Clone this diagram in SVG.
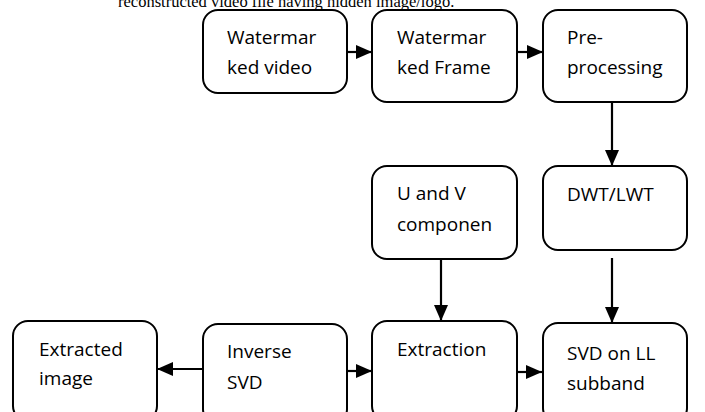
<svg xmlns="http://www.w3.org/2000/svg" width="705" height="412" viewBox="0 0 705 412">
<style>
.box{fill:#fff;stroke:#000;stroke-width:2}
.lbl{font-family:"Open Sans","Noto Sans",sans-serif;font-size:19px;fill:#000}
.hdr{font-family:"Liberation Serif",serif;font-size:16.5px;fill:#000}
.con{stroke:#000;stroke-width:2.2;fill:none;marker-end:url(#ah)}
</style>
<defs>
<marker id="ah" markerUnits="userSpaceOnUse" markerWidth="16" markerHeight="14" viewBox="0 0 16 14" refX="16" refY="7" orient="auto">
<path d="M0,0 L16,7 L0,14 Z" fill="#000"/>
</marker>
</defs>
<text class="hdr" x="118" y="7">reconstructed video file having hidden image/logo.</text>
<g id="connectors">
<line class="con" x1="347" y1="52" x2="372" y2="52"/>
<line class="con" x1="517" y1="52" x2="543" y2="52"/>
<line class="con" x1="612" y1="102" x2="612" y2="166"/>
<line class="con" x1="612" y1="258" x2="612" y2="323"/>
<line class="con" x1="441" y1="259" x2="441" y2="321"/>
<line class="con" x1="517" y1="372" x2="542" y2="372"/>
<line class="con" x1="347" y1="371" x2="372" y2="371"/>
<line class="con" x1="203" y1="369" x2="157" y2="369"/>
</g>
<g id="n_wm_video"><rect class="box" x="203" y="10" width="144" height="83" rx="15"/><text class="lbl" x="227" y="44">Watermar</text><text class="lbl" x="227" y="74">ked video</text></g>
<g id="n_wm_frame"><rect class="box" x="372" y="10" width="145" height="92" rx="15"/><text class="lbl" x="397" y="44">Watermar</text><text class="lbl" x="397" y="74">ked Frame</text></g>
<g id="n_pre"><rect class="box" x="543" y="10" width="144" height="92" rx="15"/><text class="lbl" x="567" y="44">Pre-</text><text class="lbl" x="567" y="74">processing</text></g>
<g id="n_uv"><rect class="box" x="372" y="166" width="145" height="93" rx="15"/><text class="lbl" x="397" y="200">U and V</text><text class="lbl" x="397" y="231">componen</text></g>
<g id="n_dwt"><rect class="box" x="543" y="166" width="144" height="84" rx="15"/><text class="lbl" x="567" y="201">DWT/LWT</text></g>
<g id="n_extracted"><rect class="box" x="13" y="321" width="144" height="100" rx="15"/><text class="lbl" x="39" y="356">Extracted</text><text class="lbl" x="39" y="385">image</text></g>
<g id="n_inverse"><rect class="box" x="203" y="324" width="144" height="100" rx="15"/><text class="lbl" x="227" y="358">Inverse</text><text class="lbl" x="227" y="389">SVD</text></g>
<g id="n_extraction"><rect class="box" x="372" y="321" width="145" height="100" rx="15"/><text class="lbl" x="397" y="356">Extraction</text></g>
<g id="n_svd"><rect class="box" x="543" y="323" width="144" height="100" rx="15"/><text class="lbl" x="567" y="360">SVD on LL</text><text class="lbl" x="567" y="390">subband</text></g>
</svg>
